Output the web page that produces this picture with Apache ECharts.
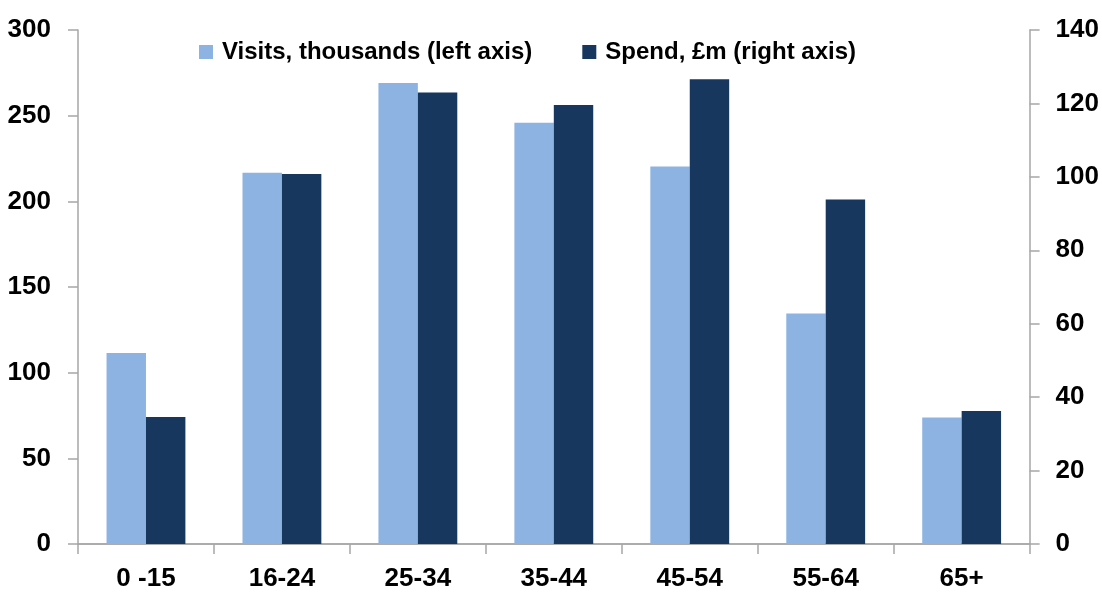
<!DOCTYPE html>
<html>
<head>
<meta charset="utf-8">
<script src="https://cdn.jsdelivr.net/npm/echarts@6/dist/echarts.min.js"></script>
<style>
html,body{margin:0;padding:0;background:#fff;}
#chart{width:1102px;height:592px;}
</style>
</head>
<body>
<div id="chart"></div>
<script>
const categories = ['0 -15', '16-24', '25-34', '35-44', '45-54', '55-64', '65+'];
const visits = [111.5, 216.7, 269, 245.8, 220.4, 134.5, 73.8];
const spend = [34.6, 100.8, 123.0, 119.6, 126.6, 93.8, 36.2];
const leftTicks = [0, 300, 50];
const rightTicks = [0, 140, 20];
const seriesNames = ['Visits, thousands (left axis)', 'Spend, £m (right axis)'];

const FONT = '"Liberation Sans Narrow", "Arial Narrow", "Liberation Sans", Arial, sans-serif';
const AX = '#a6a6a6';
const chart = echarts.init(document.getElementById('chart'), null, {renderer: 'canvas'});
const lbl = {color: '#000', fontFamily: FONT, fontWeight: 'bold', fontSize: 26};
chart.setOption({
  animation: false,
  backgroundColor: '#fff',
  grid: {left: 78, right: 70, top: 30, bottom: 47, containLabel: false},
  legend: {
    data: seriesNames,
    left: 199, top: 40, padding: 0,
    itemWidth: 14, itemHeight: 14, itemGap: 50,
    icon: 'rect',
    textStyle: {color: '#000', fontFamily: FONT, fontWeight: 'bold', fontSize: 24, padding: [0,0,0,4]}
  },
  xAxis: [{
    type: 'category', data: categories, position: 'bottom',
    axisLine: {show: true, lineStyle: {color: AX, width: 1.5}},
    axisTick: {show: true, length: 10, alignWithLabel: false, lineStyle: {color: AX, width: 1.5}},
    axisLabel: Object.assign({margin: 22}, lbl),
    splitLine: {show: false}
  }, {
    type: 'category', data: categories, position: 'top',
    axisLine: {show: true, lineStyle: {color: AX, width: 1.5}},
    axisTick: {show: false}, axisLabel: {show: false}, splitLine: {show: false}
  }],
  yAxis: [{
    type: 'value', min: leftTicks[0], max: leftTicks[1], interval: leftTicks[2], position: 'left',
    axisLine: {show: true, lineStyle: {color: AX, width: 1.5}},
    axisTick: {show: true, length: 10, lineStyle: {color: AX, width: 1.5}},
    axisLabel: Object.assign({margin: 27}, lbl),
    splitLine: {show: false}
  }, {
    type: 'value', min: rightTicks[0], max: rightTicks[1], interval: rightTicks[2], position: 'right',
    axisLine: {show: true, lineStyle: {color: AX, width: 1.5}},
    axisTick: {show: true, length: 10, lineStyle: {color: AX, width: 1.5}},
    axisLabel: Object.assign({margin: 26}, lbl),
    splitLine: {show: false}
  }],
  series: [{
    name: seriesNames[0], type: 'bar', data: visits, yAxisIndex: 0, xAxisIndex: 0,
    itemStyle: {color: '#8DB3E2'}, barGap: '0%', barCategoryGap: '42%'
  }, {
    name: seriesNames[1], type: 'bar', data: spend, yAxisIndex: 1, xAxisIndex: 0,
    itemStyle: {color: '#17375E'}, barGap: '0%', barCategoryGap: '42%'
  }]
});
</script>
</body>
</html>
